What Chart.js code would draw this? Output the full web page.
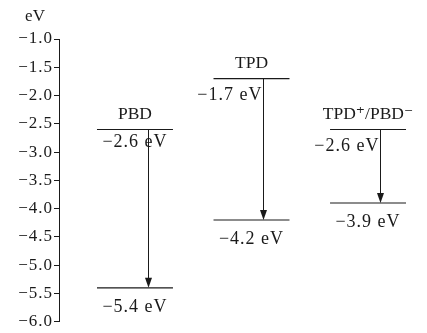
<!DOCTYPE html>
<html>
<head>
<meta charset="utf-8">
<script src="https://cdn.jsdelivr.net/npm/chart.js@4/dist/chart.umd.min.js"></script>
<style>
  html, body { margin: 0; padding: 0; background: #fff; }
  #wrap { width: 427px; height: 333px; }
</style>
</head>
<body>
<div id="wrap"><canvas id="chart"></canvas></div>
<script>
// data
const groups = ['PBD', 'TPD', 'TPD\u207A/PBD\u207B'];
const upperLevels = [-2.6, -1.7, -2.6];
const lowerLevels = [-5.4, -4.2, -3.9];
const yTicks = [-1.0, -1.5, -2.0, -2.5, -3.0, -3.5, -4.0, -4.5, -5.0, -5.5, -6.0];
const unitLabel = 'eV';

// layout (x in group units)
const halfWidth = 0.326;
const arrowOffset = [0.11, 0.10, 0.10];
// where the upper value text sits: centered below the line or left of the arrow
const upperTextMode = ['below', 'left', 'left'];

const serif = '"Liberation Serif", "DejaVu Serif", serif';
const ink = '#1a1a1a';

const fmt = v => (v < 0 ? '\u2212' : '') + Math.abs(v).toFixed(1);

const datasets = [];
groups.forEach((g, i) => {
  [upperLevels[i], lowerLevels[i]].forEach(v => {
    datasets.push({
      data: [{ x: i - halfWidth, y: v }, { x: i + halfWidth, y: v }],
      borderColor: ink,
      borderWidth: 1.2,
      pointRadius: 0,
      showLine: true
    });
  });
});

// wider spacing for the numbers, like the original typesetting
const spacing = {
  id: 'spacing',
  beforeDraw(chart) { chart.ctx.letterSpacing = '1px'; }
};

// arrows and text labels
const annotate = {
  id: 'annotate',
  afterDatasetsDraw(chart) {
    const { ctx, scales: { x, y }, chartArea } = chart;
    ctx.save();
    ctx.strokeStyle = ink;
    ctx.fillStyle = ink;
    ctx.lineWidth = 1;
    groups.forEach((g, i) => {
      const ax = Math.round(x.getPixelForValue(i + arrowOffset[i])) + 0.5;
      const y1 = y.getPixelForValue(upperLevels[i]);
      const y2 = y.getPixelForValue(lowerLevels[i]);
      ctx.beginPath();
      ctx.moveTo(ax, y1);
      ctx.lineTo(ax, y2 - 8);
      ctx.stroke();
      ctx.beginPath();
      ctx.moveTo(ax - 3.5, y2 - 10);
      ctx.lineTo(ax + 3.5, y2 - 10);
      ctx.lineTo(ax, y2);
      ctx.closePath();
      ctx.fill();

      const cx = x.getPixelForValue(i);
      ctx.textBaseline = 'middle';
      ctx.textAlign = 'center';
      ctx.letterSpacing = '0px';
      ctx.font = '17.5px ' + serif;
      ctx.fillText(g, cx, y1 - 15);

      ctx.letterSpacing = '1px';
      ctx.font = '18px ' + serif;
      const upText = fmt(upperLevels[i]) + ' eV';
      if (upperTextMode[i] === 'below') {
        ctx.textAlign = 'center';
        ctx.fillText(upText, cx, y1 + 13);
      } else {
        ctx.textAlign = 'right';
        ctx.fillText(upText, ax - 1, y1 + 17);
      }
      ctx.textAlign = 'center';
      ctx.fillText(fmt(lowerLevels[i]) + ' eV', cx, y2 + 19);
    });
    ctx.letterSpacing = '0px';
    ctx.font = '17px ' + serif;
    ctx.textAlign = 'center';
    ctx.fillText(unitLabel, chartArea.left - 24, chartArea.top - 22);
    ctx.restore();
  }
};

new Chart(document.getElementById('chart'), {
  type: 'scatter',
  data: { datasets },
  options: {
    responsive: true,
    maintainAspectRatio: false,
    animation: false,
    layout: { padding: { left: 0, right: 7, top: 39, bottom: 8 } },
    plugins: { legend: { display: false }, tooltip: { enabled: false } },
    scales: {
      x: { type: 'linear', display: false, min: -0.652, max: 2.446 },
      y: {
        type: 'linear',
        min: -6,
        max: -1,
        afterFit(scale) { scale.width = 59; },
        afterBuildTicks(scale) { scale.ticks = yTicks.map(v => ({ value: v })); },
        ticks: {
          color: ink,
          padding: 1,
          font: { family: serif, size: 17 },
          callback: v => fmt(v)
        },
        grid: { drawOnChartArea: false, tickLength: 5, color: ink, tickColor: ink },
        border: { display: true, color: ink, width: 1 }
      }
    }
  },
  plugins: [spacing, annotate]
});
</script>
</body>
</html>
